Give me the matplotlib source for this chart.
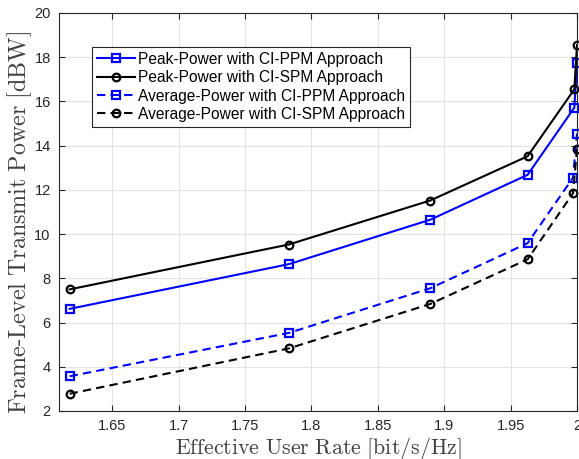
import matplotlib
matplotlib.use("Agg")
import matplotlib.pyplot as plt

# Data
rate = [1.618, 1.783, 1.8895, 1.9628, 1.998, 2.0]
peak_ppm = [6.62, 8.64, 10.65, 12.68, 15.72, 17.72]
peak_spm = [7.50, 9.53, 11.52, 13.52, 16.55, 18.55]
rate_avg = [1.618, 1.783, 1.8895, 1.9628, 1.997, 2.0]
avg_ppm = [3.57, 5.53, 7.55, 9.59, 12.55, 14.55]
avg_spm = [2.78, 4.83, 6.84, 8.86, 11.85, 13.85]

labels = ["Peak-Power with CI-PPM Approach",
          "Peak-Power with CI-SPM Approach",
          "Average-Power with CI-PPM Approach",
          "Average-Power with CI-SPM Approach"]

xticks = [1.65, 1.7, 1.75, 1.8, 1.85, 1.9, 1.95, 2.0]
xticklabels = ["1.65", "1.7", "1.75", "1.8", "1.85", "1.9", "1.95", "2"]
yticks = [2, 4, 6, 8, 10, 12, 14, 16, 18, 20]

plt.rcParams['font.family'] = ['Liberation Sans', 'DejaVu Sans']
plt.rcParams['mathtext.fontset'] = 'cm'

fig = plt.figure(figsize=(5.79, 4.59), dpi=100)
ax = fig.add_axes([59/579, 1 - 411/459, (577-59)/579, (411-13)/459])

common = dict(linewidth=1.5, markersize=5.5, markeredgewidth=1.6,
              markerfacecolor='none', clip_on=False)
ax.plot(rate, peak_ppm, '-', color='#0000ff', marker='s', label=labels[0], **common)
ax.plot(rate, peak_spm, '-', color='black', marker='o', label=labels[1], **common)
ax.plot(rate_avg, avg_ppm, '--', color='#0000ff', marker='s', label=labels[2],
        dashes=(4, 2.5), **common)
ax.plot(rate_avg, avg_spm, '--', color='black', marker='o', label=labels[3],
        dashes=(4, 2.5), **common)

ax.set_xlim(1.61, 2.0)
ax.set_ylim(2, 20)
ax.set_xticks(xticks)
ax.set_xticklabels(xticklabels)
ax.set_yticks(yticks)
ax.grid(True, color='#e3e3e3', linewidth=0.8)
ax.set_axisbelow(True)
ax.tick_params(direction='in', top=True, right=True, length=4, width=0.8,
               labelsize=10.5, colors='#262626', pad=6)
for s in ax.spines.values():
    s.set_color('#262626')
    s.set_linewidth(0.8)

ax.set_xlabel(r'$\mathrm{Effective\ User\ Rate\ [bit/s/Hz]}$', fontsize=15.8,
              color='#404040', labelpad=1)
ax.set_ylabel(r'$\mathrm{Frame}$-$\mathrm{Level\ Transmit\ Power\ [dBW]}$', fontsize=17.3,
              color='#404040', va='center')
ax.yaxis.set_label_coords(-0.076, 0.475)

leg = ax.legend(loc='upper left', bbox_to_anchor=((92-59)/518, 1 - (47-13)/398),
                fontsize=11.2, frameon=True, fancybox=False, edgecolor='#262626',
                framealpha=1, borderpad=0.3, labelspacing=0.22, handlelength=2.45,
                handletextpad=0.2, borderaxespad=0)
leg.get_frame().set_linewidth(0.8)

fig.savefig('out.png', dpi=100)
